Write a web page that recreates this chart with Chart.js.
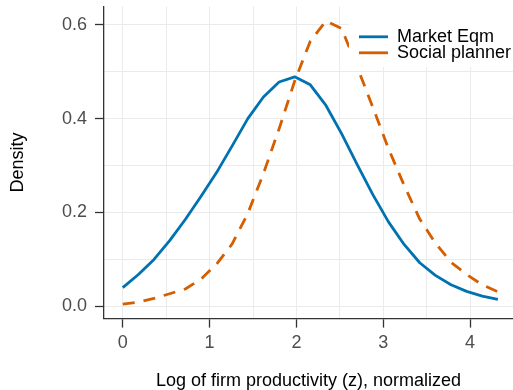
<!DOCTYPE html>
<html>
<head>
<meta charset="utf-8">
<script src="https://cdn.jsdelivr.net/npm/chart.js@4.4.1/dist/chart.umd.min.js"></script>
<style>
html,body{margin:0;padding:0;background:#fff;overflow:hidden}
#wrap{width:513px;height:390px;position:relative}
</style>
</head>
<body>
<div id="wrap"><canvas id="c" width="513" height="390"></canvas></div>
<script>
// ---- data ----
const zValues = [0, 0.18, 0.36, 0.54, 0.72, 0.90, 1.08, 1.26, 1.44, 1.62, 1.80, 1.98, 2.16, 2.34, 2.52, 2.70, 2.88, 3.06, 3.24, 3.42, 3.60, 3.78, 3.96, 4.14, 4.32];
const marketEqm = [0.040, 0.068, 0.100, 0.140, 0.185, 0.234, 0.285, 0.342, 0.400, 0.446, 0.478, 0.489, 0.472, 0.428, 0.368, 0.302, 0.238, 0.180, 0.132, 0.093, 0.066, 0.046, 0.032, 0.022, 0.015];
const socialPlanner = [0.005, 0.009, 0.017, 0.027, 0.037, 0.058, 0.090, 0.133, 0.198, 0.283, 0.378, 0.480, 0.565, 0.608, 0.592, 0.510, 0.424, 0.336, 0.258, 0.186, 0.135, 0.094, 0.068, 0.046, 0.031];
const seriesNames = ['Market Eqm', 'Social planner'];
const xTickValues = [0, 0.5, 1, 1.5, 2, 2.5, 3, 3.5, 4];
const xTickLabels = ['0', '', '1', '', '2', '', '3', '', '4'];
const yTickValues = [0, 0.1, 0.2, 0.3, 0.4, 0.5, 0.6];
const yTickLabels = ['0.0', '', '0.2', '', '0.4', '', '0.6'];
const xTitle = 'Log of firm productivity (z), normalized';
const yTitle = 'Density';

Chart.defaults.font.family = "'Liberation Sans', Arial, Helvetica, sans-serif";

const tickCol = (labels) => (ctx) => (labels[ctx.index] ? '#333333' : 'rgba(0,0,0,0)');

const legendPlacer = {
  id: 'legendPlacer',
  afterLayout(chart) {
    const lg = chart.legend;
    if (!lg) return;
    lg.left = 361; lg.top = 29.8; lg.right = 513; lg.bottom = 90;
    lg.width = lg.right - lg.left; lg.height = lg.bottom - lg.top;
  },
  afterDatasetsDraw(chart) {
    const ctx = chart.ctx, a = chart.chartArea;
    ctx.save();
    ctx.fillStyle = '#ffffff';
    ctx.fillRect(349, a.top, a.right - 349, 67 - a.top);
    ctx.restore();
    const lg = chart.legend;
    if (lg) { if (lg._draw) lg._draw(); else lg.draw(); }
  }
};

new Chart(document.getElementById('c'), {
  type: 'line',
  data: {
    datasets: [
      {
        label: seriesNames[0],
        data: zValues.map((z, i) => ({x: z, y: marketEqm[i]})),
        borderColor: '#0072B2',
        backgroundColor: '#0072B2',
        borderWidth: 2.8,
        pointRadius: 0,
        tension: 0,
        fill: false,
        borderJoinStyle: 'round'
      },
      {
        label: seriesNames[1],
        data: zValues.map((z, i) => ({x: z, y: socialPlanner[i]})),
        borderColor: '#D55E00',
        backgroundColor: '#D55E00',
        borderWidth: 2.8,
        borderDash: [12, 9],
        pointRadius: 0,
        tension: 0,
        fill: false,
        borderJoinStyle: 'round'
      }
    ]
  },
  options: {
    responsive: false,
    animation: false,
    devicePixelRatio: 1,
    layout: {padding: {top: 6.4, right: 0, bottom: 0, left: 0}},
    plugins: {
      tooltip: {enabled: false},
      legend: {
        position: 'chartArea',
        align: 'start',
        labels: {
          usePointStyle: true,
          pointStyle: 'line',
          pointStyleWidth: 29,
          padding: -2,
          color: '#000000',
          font: {size: 18}
        }
      }
    },
    scales: {
      x: {
        type: 'linear',
        position: 'bottom',
        min: -0.216,
        max: 4.494,
        afterBuildTicks: (s) => { s.ticks = xTickValues.map(v => ({value: v})); },
        afterFit: (s) => { s.height = 71.4; s.paddingLeft = 0; s.paddingRight = 0; },
        ticks: {
          autoSkip: false,
          maxRotation: 0,
          padding: 5,
          color: '#4D4D4D',
          font: {size: 18},
          callback: (v, i) => xTickLabels[i]
        },
        grid: {
          color: '#EBEBEB',
          lineWidth: 1,
          drawTicks: true,
          tickLength: 9,
          tickWidth: 1.3,
          tickColor: tickCol(xTickLabels)
        },
        border: {display: true, color: '#333333', width: 1.3},
        title: {
          display: true,
          text: xTitle,
          color: '#000000',
          font: {size: 18, lineHeight: 1},
          padding: {top: 0, bottom: 0}
        }
      },
      y: {
        type: 'linear',
        position: 'left',
        min: -0.026,
        max: 0.639,
        afterBuildTicks: (s) => { s.ticks = yTickValues.map(v => ({value: v})); },
        afterFit: (s) => { s.width = 104; s.paddingTop = 0; s.paddingBottom = 0; },
        ticks: {
          autoSkip: false,
          padding: 8,
          color: '#4D4D4D',
          font: {size: 18},
          callback: (v, i) => yTickLabels[i]
        },
        grid: {
          color: '#EBEBEB',
          lineWidth: 1,
          drawTicks: true,
          tickLength: 9,
          tickWidth: 1.3,
          tickColor: tickCol(yTickLabels)
        },
        border: {display: true, color: '#333333', width: 1.3},
        title: {
          display: true,
          text: yTitle,
          color: '#000000',
          font: {size: 18},
          padding: {top: 7, bottom: 0}
        }
      }
    }
  },
  plugins: [legendPlacer]
});
</script>
</body>
</html>
